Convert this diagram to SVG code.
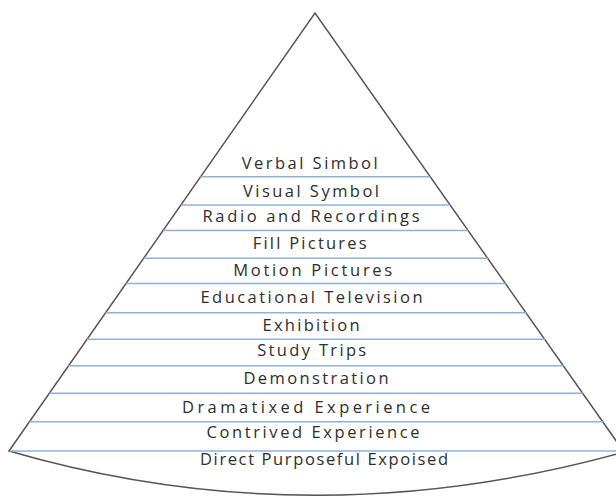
<svg xmlns="http://www.w3.org/2000/svg" width="616" height="496" viewBox="0 0 616 496">
  <style>
    .outline { fill: none; stroke: #555555; stroke-width: 1.5; stroke-linejoin: miter; }
    .band { stroke: #8eb1dc; stroke-width: 1.6; fill: none; }
    .lbl { font-family: "Open Sans", "Liberation Sans", sans-serif; font-size: 16.5px; font-weight: 400; fill: #2e2e2e; text-anchor: middle; }
  </style>
  <rect width="616" height="496" fill="#ffffff"/>
  <g id="cone">
    <path class="outline" d="M9,451 L315,13 L624,452 Q312,539 9,451 Z"/>
  </g>
  <g id="dividers">
    <line class="band" x1="200.6" y1="176.7" x2="430.4" y2="176.7"/>
    <line class="band" x1="180.9" y1="205" x2="450.4" y2="205"/>
    <line class="band" x1="163.1" y1="230.5" x2="468.3" y2="230.5"/>
    <line class="band" x1="143.6" y1="258.3" x2="487.9" y2="258.3"/>
    <line class="band" x1="126" y1="283.5" x2="505.7" y2="283.5"/>
    <line class="band" x1="105.6" y1="312.8" x2="526.4" y2="312.8"/>
    <line class="band" x1="87" y1="339.3" x2="545" y2="339.3"/>
    <line class="band" x1="68.6" y1="365.7" x2="563.7" y2="365.7"/>
    <line class="band" x1="49.3" y1="393.3" x2="583.1" y2="393.3"/>
    <line class="band" x1="29.5" y1="421.7" x2="603.1" y2="421.7"/>
    <line class="band" x1="9.5" y1="451" x2="623" y2="451"/>
  </g>
  <g id="level-verbal-simbol"><text class="lbl" x="309.7" y="169" textLength="136" lengthAdjust="spacing">Verbal Simbol</text></g>
  <g id="level-visual-symbol"><text class="lbl" x="311" y="196.7" textLength="136" lengthAdjust="spacing">Visual Symbol</text></g>
  <g id="level-radio"><text class="lbl" x="311" y="222.3" textLength="217" lengthAdjust="spacing">Radio and Recordings</text></g>
  <g id="level-fill-pictures"><text class="lbl" x="309.7" y="249" textLength="114" lengthAdjust="spacing">Fill Pictures</text></g>
  <g id="level-motion-pictures"><text class="lbl" x="312.7" y="275.7" textLength="159" lengthAdjust="spacing">Motion Pictures</text></g>
  <g id="level-educational-tv"><text class="lbl" x="311.5" y="303.3" textLength="222" lengthAdjust="spacing">Educational Television</text></g>
  <g id="level-exhibition"><text class="lbl" x="311" y="330.7" textLength="97" lengthAdjust="spacing">Exhibition</text></g>
  <g id="level-study-trips"><text class="lbl" x="311.7" y="356" textLength="109" lengthAdjust="spacing">Study Trips</text></g>
  <g id="level-demonstration"><text class="lbl" x="316" y="384.3" textLength="145" lengthAdjust="spacing">Demonstration</text></g>
  <g id="level-dramatixed"><text class="lbl" x="306" y="412.7" textLength="248" lengthAdjust="spacing">Dramatixed Experience</text></g>
  <g id="level-contrived"><text class="lbl" x="313" y="438.3" textLength="213" lengthAdjust="spacing">Contrived Experience</text></g>
  <g id="level-direct"><text class="lbl" x="324" y="465" textLength="248" lengthAdjust="spacing">Direct Purposeful Expoised</text></g>
</svg>
